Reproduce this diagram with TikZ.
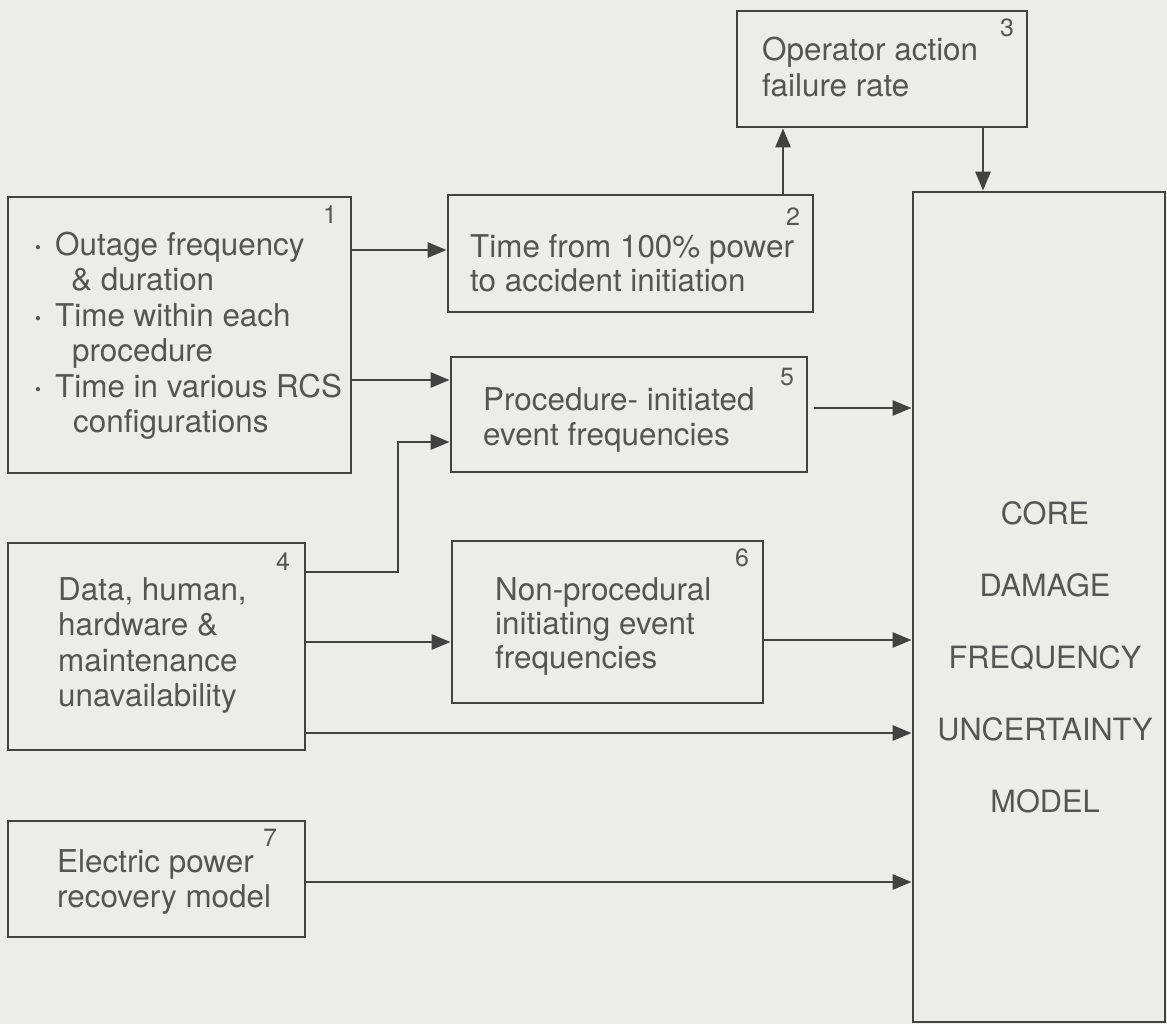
\documentclass[tikz,border=0pt]{standalone}
\usepackage{fontspec}
\setmainfont{TeX Gyre Heros}
\usetikzlibrary{arrows.meta}
\definecolor{bgc}{RGB}{236,236,235}
\definecolor{linec}{RGB}{66,66,66}
\definecolor{txtc}{RGB}{85,85,85}
\newcommand{\mybul}{\makebox[20pt][l]{\raisebox{2pt}{\fontsize{17}{17}\selectfont\textbullet}}}
\tikzset{
  box/.style={draw=linec, line width=2.8pt, rectangle, inner sep=0pt},
  txt/.style={text=txtc, inner sep=0pt, anchor=base west, align=left, font=\fontsize{31.4}{35.5}\selectfont},
  num/.style={text=txtc, inner sep=0pt, font=\fontsize{25}{25}\selectfont},
  arr/.style={draw=linec, line width=2.8pt, -{Triangle[length=19pt,width=15pt]}},
}
\begin{document}
\begin{tikzpicture}[x=1pt,y=-1pt]
\path[fill=bgc] (0,0) rectangle (1167,1024);
\useasboundingbox (0,0) rectangle (1167,1024);

% boxes
\node[box, minimum width=343pt, minimum height=276pt] (B1) at (179.5,335) {};
\node[box, minimum width=365pt, minimum height=117pt] (B2) at (630.5,253.5) {};
\node[box, minimum width=290pt, minimum height=116pt] (B3) at (882,69) {};
\node[box, minimum width=297pt, minimum height=207pt] (B4) at (156.5,646.5) {};
\node[box, minimum width=356pt, minimum height=115pt] (B5) at (629,414.5) {};
\node[box, minimum width=311pt, minimum height=162pt] (B6) at (607.5,622) {};
\node[box, minimum width=297pt, minimum height=116pt] (B7) at (156.5,879) {};
\node[box, minimum width=252pt, minimum height=830pt] (BIG) at (1039,607) {};

% numbers
\node[num] (N1) at (330,215) {1};
\node[num] (N2) at (793,217) {2};
\node[num] (N3) at (1007,28) {3};
\node[num] (N4) at (283,562) {4};
\node[num] (N5) at (787,377) {5};
\node[num] (N6) at (742,558) {6};
\node[num] (N7) at (270,838) {7};

% texts (anchor = baseline of the last line)
\node[txt] (T1) at (35,432.5) {\mybul Outage frequency\\
\hspace*{36pt}\& duration\\
\mybul Time within each\\
\hspace*{37pt}procedure\\
\mybul Time in various RCS\\
\hspace*{38pt}configurations};
\node[txt, font=\fontsize{31.4}{34}\selectfont] (T2) at (470,292) {Time from 100\% power\\to accident initiation};
\node[txt, font=\fontsize{31.4}{36}\selectfont] (T3) at (762,97) {Operator action\\failure rate};
\node[txt, font=\fontsize{31.4}{35.5}\selectfont] (T4) at (58,706.5) {Data, human,\\hardware \&\\maintenance\\unavailability};
\node[txt, font=\fontsize{31.4}{35}\selectfont] (T5) at (483,445) {Procedure- initiated\\event frequencies};
\node[txt, font=\fontsize{31.4}{34}\selectfont] (T6) at (495,668) {Non-procedural\\initiating event\\frequencies};
\node[txt, font=\fontsize{31.4}{35}\selectfont] (T7) at (57,907) {Electric power\\recovery model};
\node[txt, anchor=base, align=center, font=\fontsize{30.7}{71.8}\selectfont] (TB) at (1045,812) {CORE\\DAMAGE\\FREQUENCY\\UNCERTAINTY\\MODEL};

% connectors
\draw[arr] (B1.east |- 0,250) -- (B2.west |- 0,250);
\draw[arr] (B1.east |- 0,380) -- (B5.west |- 0,380);
\draw[arr] (B4.east |- 0,572) -| (398,507) |- (B5.west |- 0,442);
\draw[arr] (B4.east |- 0,642) -- (B6.west |- 0,642);
\draw[arr] (B4.east |- 0,733) -- (BIG.west |- 0,733);
\draw[arr] ([xshift=6pt]B5.east |- 0,408) -- (BIG.west |- 0,408);
\draw[arr] (B6.east |- 0,640) -- (BIG.west |- 0,640);
\draw[arr] (B7.east |- 0,882) -- (BIG.west |- 0,882);
\draw[arr] (B2.north -| 783,0) -- (B3.south -| 783,0);
\draw[arr] (B3.south -| 983,0) -- (BIG.north -| 983,0);
\end{tikzpicture}
\end{document}
